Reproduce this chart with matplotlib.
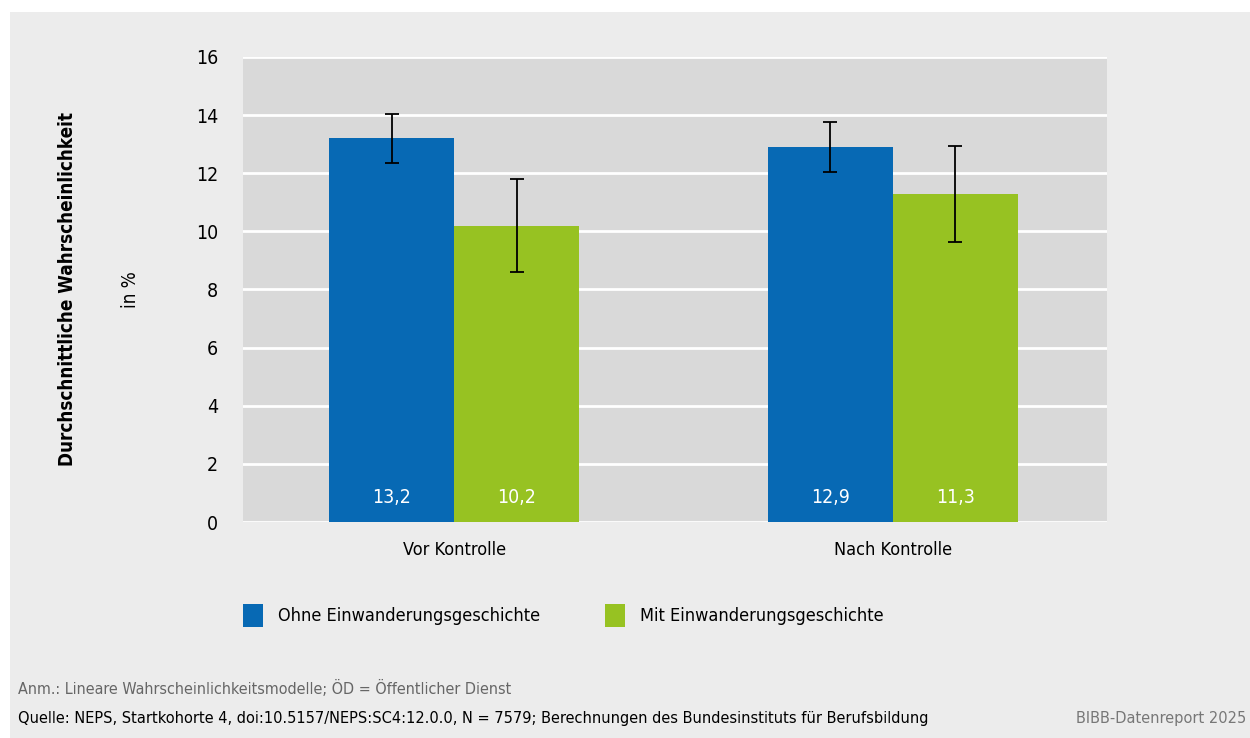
import numpy as np
import matplotlib.pyplot as plt
from matplotlib.patches import Rectangle

plt.rcParams['font.family'] = ['DejaVu Sans']
plt.rcParams['font.stretch'] = 'condensed'

# data
groups = ["Vor Kontrolle", "Nach Kontrolle"]
series = ["Ohne Einwanderungsgeschichte", "Mit Einwanderungsgeschichte"]
ohne = [13.2, 12.9]
mit = [10.2, 11.3]
ohne_err = [0.85, 0.85]
mit_err = [1.6, 1.65]
yticks = [0, 2, 4, 6, 8, 10, 12, 14, 16]

blue = "#0769b4"
green = "#97c222"

fig = plt.figure(figsize=(12.5, 7.38), dpi=100)
fig.patch.set_facecolor("white")
fig.patches.append(Rectangle((10 / 1250, 0), 1, 1 - 12 / 738, transform=fig.transFigure,
                             facecolor="#ececec", edgecolor="none", zorder=-10))

ax = fig.add_axes([243 / 1250, 1 - 522 / 738, 864 / 1250, 465 / 738])
ax.set_facecolor("#d9d9d9")

x = np.arange(len(groups))
w = 0.285
b1 = ax.bar(x - w / 2, ohne, w, color=blue, zorder=3)
b2 = ax.bar(x + w / 2, mit, w, color=green, zorder=3)
ax.errorbar(x - w / 2, ohne, yerr=ohne_err, fmt="none", ecolor="black",
            elinewidth=1.3, capsize=5, capthick=1.3, zorder=4)
ax.errorbar(x + w / 2, mit, yerr=mit_err, fmt="none", ecolor="black",
            elinewidth=1.3, capsize=5, capthick=1.3, zorder=4)

for bars, vals in [(b1, ohne), (b2, mit)]:
    for r, v in zip(bars, vals):
        ax.text(r.get_x() + r.get_width() / 2, 0.5, f"{v:.1f}".replace(".", ","),
                ha="center", va="bottom", color="white", fontsize=14, zorder=5)

ax.set_ylim(0, 16)
ax.set_xlim(-0.481, 1.488)
ax.set_yticks(yticks)
ax.set_yticklabels([str(t) for t in yticks], fontsize=14)
ax.yaxis.grid(True, color="white", linewidth=2, zorder=1)
ax.set_axisbelow(True)
ax.tick_params(axis="y", length=0, pad=18)
ax.tick_params(axis="x", length=0, pad=14)
ax.set_xticks(x)
ax.set_xticklabels(groups, fontsize=13)
for s in ax.spines.values():
    s.set_visible(False)

fig.text(68 / 1250, 1 - 289 / 738, "Durchschnittliche Wahrscheinlichkeit", rotation=90,
         ha="center", va="center", fontsize=13.5, fontweight="bold")
fig.text(130 / 1250, 1 - 290 / 738, "in %", rotation=90, ha="center", va="center", fontsize=13.5)

# legend
for lx, lab, c in [(243, series[0], blue), (605, series[1], green)]:
    fig.patches.append(Rectangle((lx / 1250, 1 - 627 / 738), 20 / 1250, 23 / 738,
                                 transform=fig.transFigure, facecolor=c, edgecolor="none"))
    fig.text((lx + 35) / 1250, 1 - 616 / 738, lab, ha="left", va="center", fontsize=13)

fig.text(18 / 1250, 1 - 688 / 738, "Anm.: Lineare Wahrscheinlichkeitsmodelle; ÖD = Öffentlicher Dienst",
         ha="left", va="center", fontsize=11.5, color="#666666")
fig.text(18 / 1250, 1 - 719 / 738,
         "Quelle: NEPS, Startkohorte 4, doi:10.5157/NEPS:SC4:12.0.0, N = 7579; Berechnungen des Bundesinstituts für Berufsbildung",
         ha="left", va="center", fontsize=11.7, color="black")
fig.text(1246 / 1250, 1 - 719 / 738, "BIBB-Datenreport 2025", ha="right", va="center",
         fontsize=11.7, color="#777777")

fig.savefig("out.png", dpi=100)
